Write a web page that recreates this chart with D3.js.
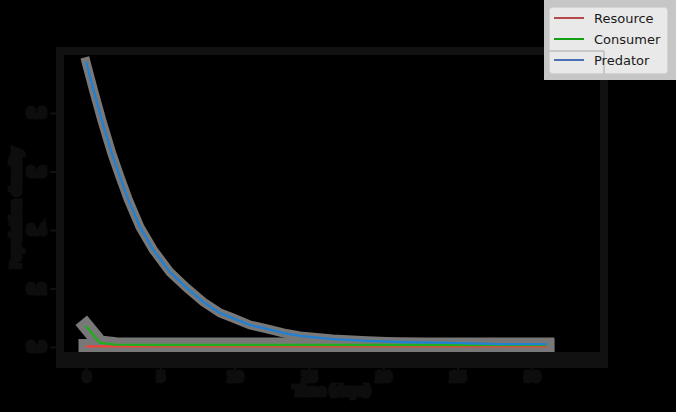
<!DOCTYPE html>
<html>
<head>
<meta charset="utf-8">
<script src="https://cdn.jsdelivr.net/npm/d3@7"></script>
<style>
html,body{margin:0;padding:0;background:#000;}
svg{display:block;}
</style>
</head>
<body>
<svg id="chart" width="676" height="412"></svg>
<script>
// ---- data ----
const seriesNames = ["Resource", "Consumer", "Predator"];
const timePredator = [0, 0.5, 1.06, 1.73, 2.29, 2.85, 3.63, 4.53, 5.65, 6.78, 7.89, 9.02, 9.89, 11.04, 12.18, 13.26, 14.4, 16.6, 18.9, 21.1, 24.5, 27.9, 31.0];
const predator = [0.975, 0.879, 0.776, 0.663, 0.581, 0.503, 0.410, 0.332, 0.256, 0.202, 0.154, 0.116, 0.099, 0.075, 0.062, 0.048, 0.038, 0.027, 0.021, 0.017, 0.014, 0.010, 0.010];
const timeConsumer = [0, 0.94, 2, 5, 10, 15, 20, 25, 31.0];
const consumer = [0.072, 0.014, 0.008, 0.007, 0.007, 0.007, 0.007, 0.007, 0.007];
const timeResource = [0, 1, 5, 10, 15, 20, 25, 31.0];
const resource = [0.002, 0.002, 0.002, 0.002, 0.002, 0.002, 0.002, 0.002];
const xTicks = [0, 5, 10, 15, 20, 25, 30];
const yTicks = [0.0, 0.2, 0.4, 0.6, 0.8];
const xLabel = "Time (days)";
const yLabel = "Population density";

// ---- drawing ----
const svg = d3.select("#chart");
svg.append("rect").attr("width", 676).attr("height", 412).attr("fill", "#000");

const x = d3.scaleLinear().domain([0, 30]).range([86, 532]);
const y = d3.scaleLinear().domain([0, 0.8]).range([347, 113]);

const frame = "#111111";
const textCol = "#0d0d0d";
const L = 60, R = 604, T = 51, B = 360;

const lineGen = (ts, vs) => d3.line().x((d, i) => x(ts[i])).y((d, i) => y(vs[i]))(vs);
const series = [
  {t: timeResource, v: resource, color: "#f0403c"},
  {t: timeConsumer, v: consumer, color: "#1fae1f"},
  {t: timePredator, v: predator, color: "#2280d2"}
];

// grey bands round the lines
const halo = svg.append("g");
series.forEach((s, i) => {
  halo.append("path").attr("d", lineGen(s.t, s.v))
    .attr("fill", "none").attr("stroke", "#787878")
    .attr("stroke-width", i === 2 ? 9 : 15).attr("stroke-linejoin", "miter").attr("stroke-linecap", "square");
});

// lines
series.forEach(s => {
  svg.append("path").attr("d", lineGen(s.t, s.v))
    .attr("fill", "none").attr("stroke", s.color)
    .attr("stroke-width", 2.4).attr("stroke-linejoin", "round");
});

// spines
svg.append("line").attr("x1", L - 4).attr("x2", R + 4).attr("y1", T).attr("y2", T).attr("stroke", frame).attr("stroke-width", 8);
svg.append("line").attr("x1", L).attr("x2", L).attr("y1", T - 4).attr("y2", B + 8).attr("stroke", frame).attr("stroke-width", 8);
svg.append("line").attr("x1", R).attr("x2", R).attr("y1", T - 4).attr("y2", B + 8).attr("stroke", frame).attr("stroke-width", 8);
svg.append("line").attr("x1", L - 4).attr("x2", R + 4).attr("y1", B).attr("y2", B).attr("stroke", frame).attr("stroke-width", 16);

// x axis
const xAxis = d3.axisBottom(x).tickValues(xTicks).tickSize(6).tickPadding(2).tickFormat(d3.format("d"));
const gx = svg.append("g").attr("transform", `translate(0,${B + 4})`).call(xAxis);
gx.select(".domain").remove();
gx.selectAll("line").attr("stroke", frame).attr("stroke-width", 2);
gx.selectAll("text").attr("fill", textCol).attr("stroke", textCol).attr("stroke-width", 5)
  .attr("font-family", "DejaVu Sans").attr("font-size", 12);

// y axis
const yAxis = d3.axisLeft(y).tickValues(yTicks).tickSize(6).tickPadding(4).tickFormat(d3.format(".1f"));
const gy = svg.append("g").attr("transform", `translate(${L - 4},0)`).call(yAxis);
gy.select(".domain").remove();
gy.selectAll("line").attr("stroke", frame).attr("stroke-width", 2);
gy.selectAll("text").attr("fill", textCol).attr("stroke", textCol).attr("stroke-width", 5)
  .attr("font-family", "DejaVu Sans").attr("font-size", 12);

// axis labels
svg.append("text").attr("x", 332).attr("y", 395).attr("text-anchor", "middle")
  .attr("fill", textCol).attr("stroke", textCol).attr("stroke-width", 5)
  .attr("font-family", "DejaVu Sans").attr("font-size", 13).text(xLabel);
svg.append("text").attr("transform", "translate(20,208) rotate(-90)").attr("text-anchor", "middle")
  .attr("fill", textCol).attr("stroke", textCol).attr("stroke-width", 5)
  .attr("font-family", "DejaVu Sans").attr("font-size", 13).text(yLabel);

// legend
const legendColors = ["#b54a4a", "#14a014", "#4a70b6"];
const lg = svg.append("g");
lg.append("rect").attr("x", 544).attr("y", -4).attr("width", 134).attr("height", 84).attr("fill", "#c6c6c6");
lg.append("rect").attr("x", 549.5).attr("y", 7.5).attr("width", 118).attr("height", 66).attr("rx", 3)
  .attr("fill", "#ebebeb").attr("fill-opacity", 0.95).attr("stroke", "#d4d4d4");
lg.append("line").attr("x1", 549).attr("x2", R).attr("y1", T).attr("y2", T).attr("stroke", "#bdbdbd").attr("stroke-width", 1.5);
lg.append("line").attr("x1", R).attr("x2", R).attr("y1", T).attr("y2", 74).attr("stroke", "#bdbdbd").attr("stroke-width", 1.5);
seriesNames.forEach((name, i) => {
  const yy = 18 + i * 21;
  lg.append("line").attr("x1", 554).attr("x2", 584).attr("y1", yy).attr("y2", yy)
    .attr("stroke", legendColors[i]).attr("stroke-width", 2);
  lg.append("text").attr("x", 594).attr("y", yy + 5).attr("fill", "#1a1a1a")
    .attr("font-family", "DejaVu Sans").attr("font-size", 13).text(name);
});
</script>
</body>
</html>
